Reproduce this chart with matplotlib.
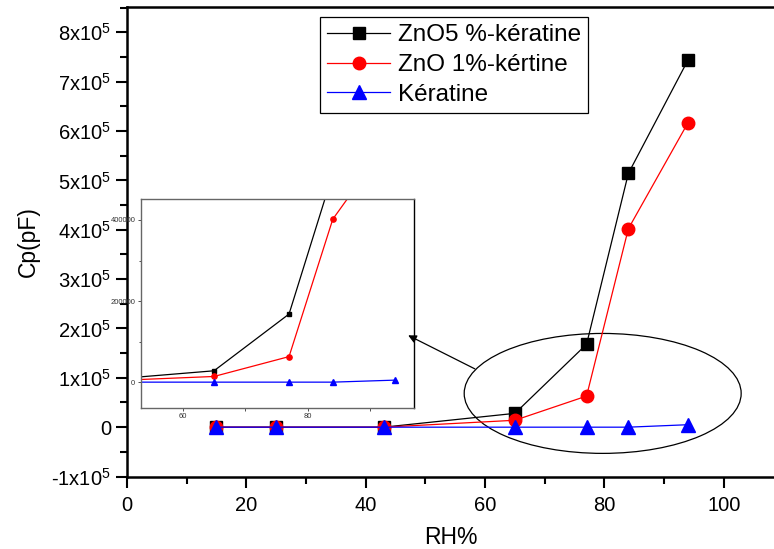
import numpy as np
import matplotlib
matplotlib.use("Agg")
import matplotlib.pyplot as plt
from matplotlib.patches import Ellipse
from matplotlib.ticker import MultipleLocator, FuncFormatter

plt.rcParams['font.family'] = ['Liberation Sans', 'DejaVu Sans']
plt.rcParams['mathtext.fontset'] = 'custom'
plt.rcParams['mathtext.rm'] = 'Liberation Sans'
plt.rcParams['mathtext.it'] = 'Liberation Sans'
plt.rcParams['mathtext.default'] = 'rm'

# Data
rh = [15, 25, 43, 65, 77, 84, 94]
zno5 = [0, 0, 0, 28000, 168000, 514000, 744000]
zno1 = [0, 0, 0, 14000, 63000, 402000, 617000]
keratine = [0, 0, 0, 0, 0, 0, 5000]
labels = ['ZnO5 %-kératine', 'ZnO 1%-kértine', 'Kératine']

fig = plt.figure(figsize=(7.74, 5.49), dpi=100)
ax = fig.add_axes([0.164, 0.132, 0.836, 0.855])

ax.plot(rh, zno5, color='black', lw=0.9, marker='s', ms=8, label=labels[0])
ax.plot(rh, zno1, color='red', lw=0.9, marker='o', ms=9, label=labels[1])
ax.plot(rh, keratine, color='blue', lw=0.9, marker='^', ms=10, label=labels[2])

ax.set_xlim(0, 108.4)
ax.set_ylim(-100000, 851000)
ax.xaxis.set_major_locator(MultipleLocator(20))
ax.xaxis.set_minor_locator(MultipleLocator(10))
ax.yaxis.set_major_locator(MultipleLocator(100000))
ax.yaxis.set_minor_locator(MultipleLocator(50000))


def sci_fmt(v, pos):
    n = int(round(v / 1e5))
    if n == 0:
        return '0'
    return f'{n}x10$^{{5}}$'


ax.yaxis.set_major_formatter(FuncFormatter(sci_fmt))
ax.tick_params(which='major', direction='out', length=8, width=1.5, labelsize=14.5)
ax.tick_params(which='minor', direction='out', length=5, width=1.5)
ax.tick_params(axis='x', pad=6)
for s in ['left', 'bottom', 'top']:
    ax.spines[s].set_linewidth(1.8)
ax.spines['right'].set_visible(False)

ax.set_xlabel('RH%', fontsize=16.5)
ax.set_ylabel('Cp(pF)', fontsize=16.5)
ax.yaxis.set_label_coords(-0.135, 0.5)
ax.xaxis.set_label_coords(0.5, -0.105)

leg = ax.legend(loc='upper left', bbox_to_anchor=(0.298, 0.979), fontsize=17.5,
                frameon=True, fancybox=False, framealpha=1, edgecolor='black',
                handlelength=2.6, borderpad=0.3, labelspacing=0.32,
                handletextpad=0.3, borderaxespad=0)
leg.get_frame().set_linewidth(0.9)

# Highlight ellipse
ax.add_patch(Ellipse((79.7, 68400), 46.4, 243000, fill=False, edgecolor='black', lw=0.9))

# Inset zoom
axin = fig.add_axes([0.182, 0.2574, 0.353, 0.3796])
axin.plot(rh, zno5, color='black', lw=0.9, marker='s', ms=3.5)
axin.plot(rh, zno1, color='red', lw=0.9, marker='o', ms=3.8)
axin.plot(rh, keratine, color='blue', lw=0.9, marker='^', ms=4)
axin.set_xlim(53.3, 97)
axin.set_ylim(-63000, 451000)
axin.xaxis.set_major_locator(MultipleLocator(20))
axin.xaxis.set_minor_locator(MultipleLocator(10))
axin.yaxis.set_major_locator(MultipleLocator(200000))
axin.yaxis.set_minor_locator(MultipleLocator(100000))
axin.tick_params(which='major', direction='out', length=2.5, width=0.6,
                 labelsize=5.5, colors='#333333', pad=1.5)
axin.tick_params(which='minor', direction='out', length=1.8, width=0.6, colors='#333333')
for s in ['left', 'bottom', 'top']:
    axin.spines[s].set_color('#666666')
    axin.spines[s].set_linewidth(1.0)
axin.spines['right'].set_linewidth(1.0)

# Arrow from the ellipse to the inset, drawn above the inset
axin.annotate('', xy=(46.7, 188600), xycoords=ax.transData,
              xytext=(58.7, 115600), textcoords=ax.transData,
              annotation_clip=False,
              arrowprops=dict(arrowstyle='-|>', color='black', lw=0.9,
                              mutation_scale=12))

fig.savefig('out.png', dpi=100)
